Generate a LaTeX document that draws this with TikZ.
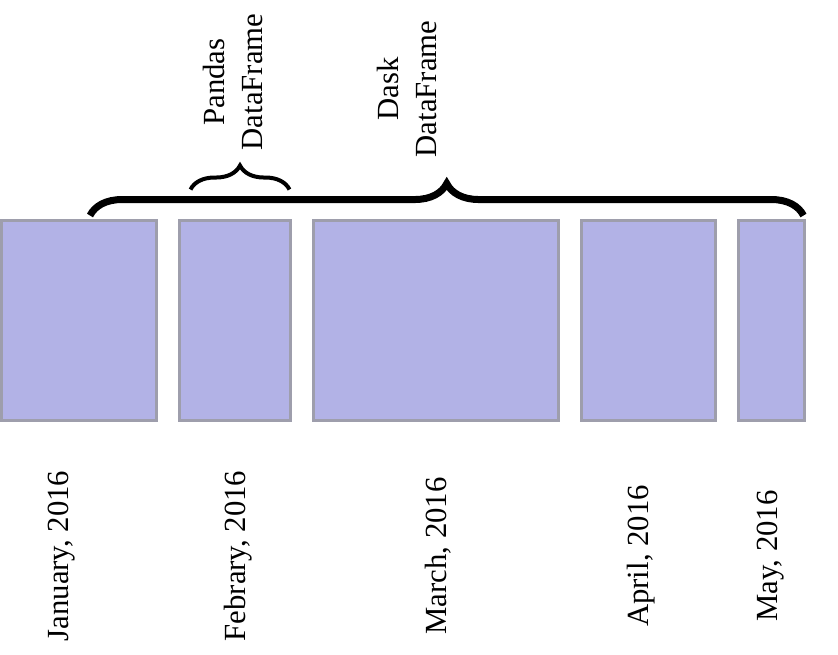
\documentclass[tikz,border=0pt]{standalone}
\usepackage{fontspec}
\setmainfont{Liberation Serif}
\usetikzlibrary{positioning, decorations.pathreplacing}
\definecolor{chunkfill}{RGB}{178, 178, 230}
\definecolor{chunkedge}{RGB}{158, 158, 172}

\begin{document}
\begin{tikzpicture}[x=0.02cm, y=-0.02cm,
                chunk/.style={draw=chunkedge, fill=chunkfill,
                    line width=0.06cm, minimum height=4cm,
                    inner sep=0pt},
                month/.style={rotate=90, inner sep=0pt,
                    font=\fontsize{17.5}{22}\selectfont},
                dflabel/.style={month, align=center},
                bigbrace/.style={decorate, line width=0.14cm,
                    decoration={brace, amplitude=0.64cm}},
                smallbrace/.style={decorate, line width=0.08cm,
                    decoration={brace, amplitude=0.48cm}}
            ]
                \useasboundingbox (0, 0) rectangle (838, 655);

                % one chunk per month
                \node[chunk, minimum width=3.1cm] (jan) at (79, 320.5) {};
                \node[chunk, minimum width=2.22cm] (feb) at (235, 320.5) {};
                \node[chunk, minimum width=4.9cm] (mar) at (436, 320.5) {};
                \node[chunk, minimum width=2.68cm] (apr) at (648.5, 320.5) {};
                \node[chunk, minimum width=1.32cm] (may) at (771.5, 320.5) {};

                \node[month] (janlbl) at (62, 556) {January, 2016};
                \node[month] (feblbl) at (238, 556) {Febrary, 2016};
                \node[month] (marlbl) at (438, 556) {March, 2016};
                \node[month] (aprlbl) at (641, 556) {April, 2016};
                \node[month] (maylbl) at (771, 556) {May, 2016};

                % braces over the chunks
                \draw[bigbrace] ([xshift=0.22cm, yshift=0.07cm]jan.north)
                    -- ([xshift=-0.05cm, yshift=0.07cm]may.north east);
                \draw[smallbrace] ([xshift=0.25cm, yshift=0.59cm]feb.north west)
                    -- ([xshift=-0.05cm, yshift=0.59cm]feb.north east);

                \node[dflabel] (pdlbl) at (233, 82) {Pandas\\DataFrame};
                \node[dflabel] (ddlbl) at (407, 89) {Dask\\DataFrame};

            \end{tikzpicture}
\end{document}
